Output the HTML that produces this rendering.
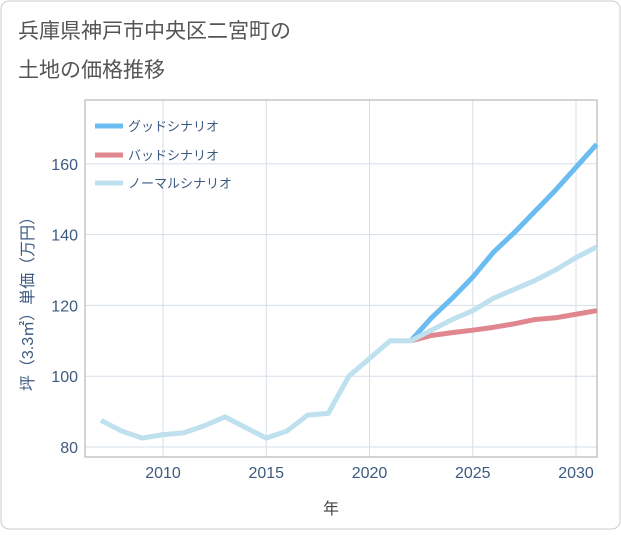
<!DOCTYPE html>
<html><head><meta charset="utf-8"><style>
body{margin:0;background:#fff;font-family:"Liberation Sans","Noto Sans CJK JP",sans-serif}
#wrap{position:relative;width:621px;height:530px}
</style></head><body>
<div id="wrap">
<svg id="svg" width="621" height="530" xmlns="http://www.w3.org/2000/svg">
<rect x="1" y="1" width="619" height="528" rx="8" fill="#fff" stroke="#ccc"/>
<text x="18" y="38" font-size="21" fill="#555">兵庫県神戸市中央区二宮町の</text>
<text x="18" y="77" font-size="21" fill="#555">土地の価格推移</text>
<g id="grid"></g>
<rect x="85" y="100" width="512" height="357" fill="none" stroke="#aaa"/>
<g id="series"></g>
<g id="legend"></g>
<text x="331" y="514" font-size="16" fill="#444" text-anchor="middle">年</text>
<text transform="translate(33,300) rotate(-90)" font-size="16" fill="#3d5a80" text-anchor="middle">坪（3.3㎡）単価（万円）</text>
</svg>
</div>
<script>
const years=[2007,2008,2009,2010,2011,2012,2013,2014,2015,2016,2017,2018,2019,2020,2021,2022,2023,2024,2025,2026,2027,2028,2029,2030,2031];
const normalVals=[87.5,84.5,82.5,83.5,84,86,88.5,85.5,82.5,84.5,89,89.5,100,105,110,110,113,116,118.5,122,124.5,127,130,133.5,136.5];
const futureYears=[2022,2023,2024,2025,2026,2027,2028,2029,2030,2031];
const goodVals=[110,116.5,122,128,135,140.5,146.5,152.5,159,165.5];
const badVals=[110,111.5,112.3,113,113.8,114.8,116,116.5,117.5,118.5];
const xTicks=[2010,2015,2020,2025,2030];
const yTicks=[80,100,120,140,160];
const NS="http://www.w3.org/2000/svg";
const X=y=>163+(y-2010)*20.65;
const Y=v=>447-(v-80)*3.54;
const grid=document.getElementById('grid'),ser=document.getElementById('series'),leg=document.getElementById('legend');
function mk(t,a,p){const e=document.createElementNS(NS,t);for(const k in a)e.setAttribute(k,a[k]);p.appendChild(e);return e;}
xTicks.forEach(t=>{
 const l=mk('line',{x1:X(t),x2:X(t),y1:100,y2:457,stroke:'#d5dfe8'},grid);
 
 
 const tx=mk('text',{x:X(t),y:478,'font-size':16,fill:'#3d5a80','text-anchor':'middle'},grid);tx.textContent=t;
 
 
});
yTicks.forEach(t=>{
 const l=mk('line',{x1:85,x2:597,y1:Y(t),y2:Y(t),stroke:'#d5dfe8'},grid);
 
 
 const tx=mk('text',{x:78,y:Y(t)+6,'font-size':16,fill:'#3d5a80','text-anchor':'end'},grid);tx.textContent=t;
 
 
});
function line(xs,vs,c,name){
 const p=mk('polyline',{points:xs.map((y,i)=>X(y)+','+Y(vs[i])).join(' '),fill:'none',stroke:c,'stroke-width':5,'stroke-linejoin':'round'},ser);
 
 
}
line(futureYears,badVals,'#e0868e','bad-scenario-line');
line(futureYears,goodVals,'#6bbcf0','good-scenario-line');
line(years,normalVals,'#bfe0ee','normal-scenario-line');
[['グッドシナリオ','#6bbcf0',126],['バッドシナリオ','#e0868e',155],['ノーマルシナリオ','#bfe0ee',183]].forEach(([n,c,y])=>{
 const l=mk('line',{x1:95,x2:123,y1:y,y2:y,stroke:c,'stroke-width':5},leg);
 
 
 const t=mk('text',{x:128,y:y+5,'font-size':13,fill:'#3d5a80'},leg);t.textContent=n;
 
 
});
</script>
</body></html>
